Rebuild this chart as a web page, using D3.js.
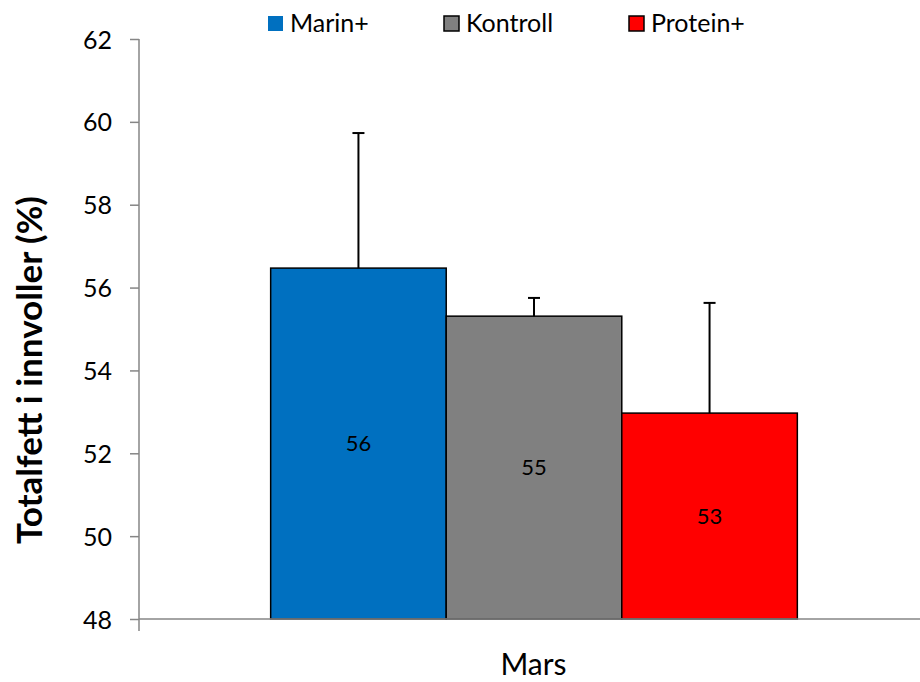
<!DOCTYPE html>
<html><head><meta charset="utf-8">
<script src="https://cdn.jsdelivr.net/npm/d3@7"></script>
<style>body{margin:0;background:#fff}svg{display:block}text{font-family:Lato,"Open Sans",sans-serif}</style>
</head><body><svg id="c" width="920" height="682"></svg>
<script>
const categories = ["Mars"];
const seriesNames = ["Marin+", "Kontroll", "Protein+"];
const seriesValues = [56.47, 55.31, 52.97];
const seriesErrors = [3.26, 0.44, 2.66];
const valueLabels = ["56", "55", "53"];
const seriesColors = ["#0070C0", "#808080", "#FF0000"];
const yTicks = [48, 50, 52, 54, 56, 58, 60, 62];

(function () {
const svg = d3.select("#c");
const pLeft = 139, pRight = 929, pTop = 39, pBottom = 619;

const y = d3.scaleLinear().domain([48, 62]).range([pBottom, pTop]);
const x0 = d3.scaleBand().domain(categories).range([pLeft, pRight]).paddingInner(0).paddingOuter(0);
const x1 = d3.scaleBand().domain(seriesNames).range([0, x0.bandwidth()]).paddingInner(0).paddingOuter(0.75);

// y axis
const yAxis = svg.append("g").attr("transform", `translate(${pLeft},0)`)
  .call(d3.axisLeft(y).tickValues(yTicks).tickSize(9).tickPadding(18).tickFormat(d3.format("d")));
yAxis.select(".domain").remove();
yAxis.selectAll(".tick line").attr("stroke", "#868686").attr("stroke-width", 1.5);
yAxis.selectAll(".tick text").attr("font-size", 25).attr("fill", "#000").attr("dy", "0.36em");
svg.append("line").attr("x1", pLeft).attr("x2", pLeft).attr("y1", pTop).attr("y2", pBottom + 12)
  .attr("stroke", "#868686").attr("stroke-width", 1.5);

const g = svg.append("g");
categories.forEach(cat => {
  seriesNames.forEach((s, i) => {
    const bx = x0(cat) + x1(s), bw = x1.bandwidth();
    g.append("rect").attr("x", bx).attr("y", y(seriesValues[i]))
      .attr("width", bw).attr("height", y(48) - y(seriesValues[i]))
      .attr("fill", seriesColors[i]).attr("stroke", "#000").attr("stroke-width", 1.5);
    const cx = bx + bw / 2;
    const yt = y(seriesValues[i] + seriesErrors[i]);
    g.append("line").attr("x1", cx).attr("x2", cx).attr("y1", y(seriesValues[i])).attr("y2", yt)
      .attr("stroke", "#000").attr("stroke-width", 2);
    g.append("line").attr("x1", cx - 6).attr("x2", cx + 6).attr("y1", yt).attr("y2", yt)
      .attr("stroke", "#000").attr("stroke-width", 2);
    g.append("text").attr("x", cx).attr("y", (y(seriesValues[i]) + y(48)) / 2)
      .attr("text-anchor", "middle").attr("dy", "0.36em")
      .attr("font-size", 22).attr("fill", "#000").text(valueLabels[i]);
  });
  svg.append("text").attr("x", x0(cat) + x0.bandwidth() / 2 - 0.5).attr("y", 675)
    .attr("text-anchor", "middle")
    .attr("font-size", 30).attr("fill", "#000").text(cat);
});

// x axis line
svg.append("line").attr("x1", pLeft).attr("x2", 920).attr("y1", pBottom).attr("y2", pBottom)
  .attr("stroke", "#868686").attr("stroke-width", 1.5);

// y title
svg.append("text").attr("transform", "translate(28,370) rotate(-90)")
  .attr("text-anchor", "middle").attr("dominant-baseline", "central")
  .attr("font-size", 35).attr("font-weight", "bold").attr("fill", "#000").text("Totalfett i innvoller (%)");

// legend
const legendX = [268, 444, 629];
seriesNames.forEach((s, i) => {
  svg.append("rect").attr("x", legendX[i]).attr("y", 16).attr("width", 15).attr("height", 15)
    .attr("fill", seriesColors[i]).attr("stroke", i === 0 ? "none" : "#000").attr("stroke-width", 1.5);
  svg.append("text").attr("x", legendX[i] + 22).attr("y", 32)
    .attr("font-size", 25).attr("fill", "#000").text(s);
});
})();
</script></body></html>
